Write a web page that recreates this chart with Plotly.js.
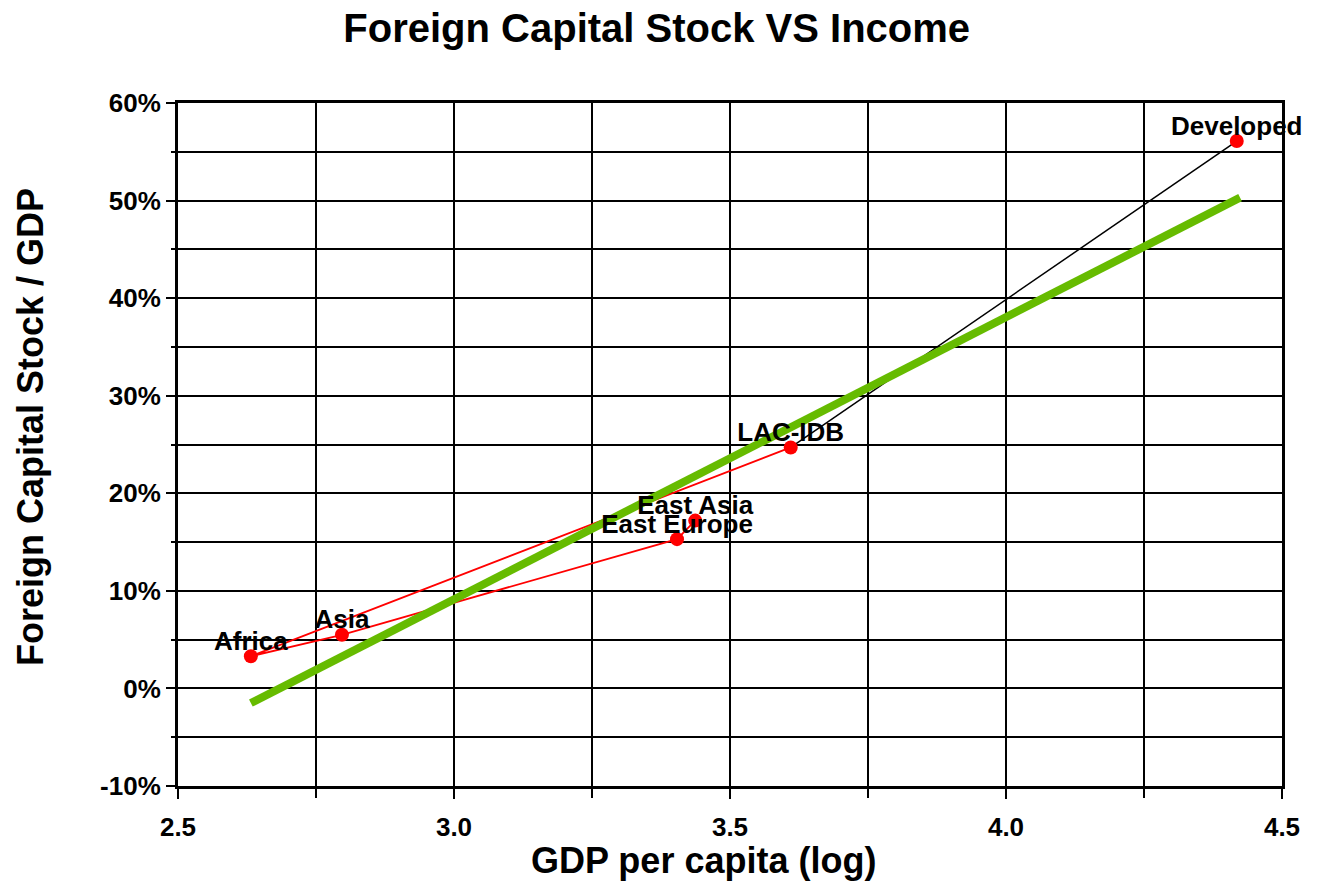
<!DOCTYPE html>
<html>
<head>
<meta charset="utf-8">
<script src="https://cdn.plot.ly/plotly-3.0.1.min.js"></script>
<style>html,body{margin:0;padding:0;background:#fff;}#chart{width:1324px;height:882px;}</style>
</head>
<body>
<div id="chart"></div>
<script>
// Region data
const regions = ["Africa", "Asia", "East Europe", "East Asia", "LAC-IDB", "Developed"];
const gdpLog = [2.632, 2.797, 3.404, 3.437, 3.610, 4.418];
const fcsShare = [0.033, 0.055, 0.153, 0.172, 0.247, 0.561];

// Red connecting path (order as drawn)
const redPathNames = ["LAC-IDB", "Africa", "Asia", "East Europe", "East Asia"];
// Black connector
const blackPathNames = ["LAC-IDB", "Developed"];

// Trend line end points
const trendX = [2.632, 4.424];
const trendY = [-0.015, 0.503];

// Tick labels
const xTickVals = [2.5, 3.0, 3.5, 4.0, 4.5];
const xTickText = ["2.5", "3.0", "3.5", "4.0", "4.5"];
const yTickVals = [-0.1, 0, 0.1, 0.2, 0.3, 0.4, 0.5, 0.6];
const yTickText = ["-10%", "0%", "10%", "20%", "30%", "40%", "50%", "60%"];

function pick(names, arr) { return names.map(n => arr[regions.indexOf(n)]); }

const FONT = "Arial, 'Liberation Sans', sans-serif";

const traces = [
  {
    x: pick(redPathNames, gdpLog), y: pick(redPathNames, fcsShare),
    mode: "lines", type: "scatter", line: {color: "#ff0000", width: 1.8},
    hoverinfo: "skip", showlegend: false, cliponaxis: false
  },
  {
    x: pick(blackPathNames, gdpLog), y: pick(blackPathNames, fcsShare),
    mode: "lines", type: "scatter", line: {color: "#000000", width: 1.5},
    hoverinfo: "skip", showlegend: false, cliponaxis: false
  },
  {
    x: trendX, y: trendY, mode: "lines", type: "scatter",
    line: {color: "#66bb00", width: 8}, showlegend: false, cliponaxis: false
  },
  {
    x: gdpLog, y: fcsShare, mode: "markers", type: "scatter",
    marker: {color: "#ff0000", size: 14}, cliponaxis: false,
    showlegend: false
  },
  {
    x: gdpLog, y: fcsShare, text: regions, mode: "text", type: "scatter",
    textposition: "top center", cliponaxis: false,
    textfont: {family: FONT, size: 26, color: "#000", weight: "bold"},
    showlegend: false
  }
];

const axisCommon = {
  showline: true, linecolor: "#000", linewidth: 3, mirror: true,
  showgrid: true, gridcolor: "#000", gridwidth: 2,
  zeroline: false, ticks: "outside", tickcolor: "#000", tickwidth: 2,
  tickmode: "array",
  tickfont: {family: FONT, size: 26, color: "#000", weight: "bold"}
};

const layout = {
  width: 1324, height: 882,
  paper_bgcolor: "#fff", plot_bgcolor: "#fff",
  margin: {l: 178, r: 42, t: 103, b: 96},
  title: {
    text: "Foreign Capital Stock VS Income",
    x: 0.496, xanchor: "center", y: 0.968, yanchor: "middle",
    font: {family: FONT, size: 40, color: "#000", weight: "bold"}
  },
  xaxis: Object.assign({}, axisCommon, {
    range: [2.5, 4.5], tickvals: xTickVals, ticktext: xTickText, ticklen: 10,
    ticklabelstandoff: 6,
    minor: {tickmode: "linear", dtick: 0.25, tick0: 2.5, showgrid: true, gridcolor: "#000", gridwidth: 2, ticks: "outside", ticklen: 9, tickcolor: "#000", tickwidth: 2}
  }),
  yaxis: Object.assign({}, axisCommon, {
    range: [-0.1, 0.6], tickvals: yTickVals, ticktext: yTickText, ticklen: 9,
    minor: {tickmode: "linear", dtick: 0.05, tick0: 0, showgrid: true, gridcolor: "#000", gridwidth: 2, ticks: "outside", ticklen: 4, tickcolor: "#000", tickwidth: 2}
  }),
  annotations: [
    {
      text: "GDP per capita (log)", xref: "paper", yref: "paper",
      x: (703 - 178) / 1104, y: -(860 - 786) / 683, xanchor: "center", yanchor: "middle",
      showarrow: false, font: {family: FONT, size: 36, color: "#000", weight: "bold"}
    },
    {
      text: "Foreign Capital Stock / GDP", xref: "paper", yref: "paper", textangle: -90,
      x: -(178 - 30) / 1104, y: (786 - 427) / 683, xanchor: "center", yanchor: "middle",
      showarrow: false, font: {family: FONT, size: 36, color: "#000", weight: "bold"}
    }
  ]
};

Plotly.newPlot("chart", traces, layout, {displayModeBar: false, staticPlot: true});
</script>
</body>
</html>
